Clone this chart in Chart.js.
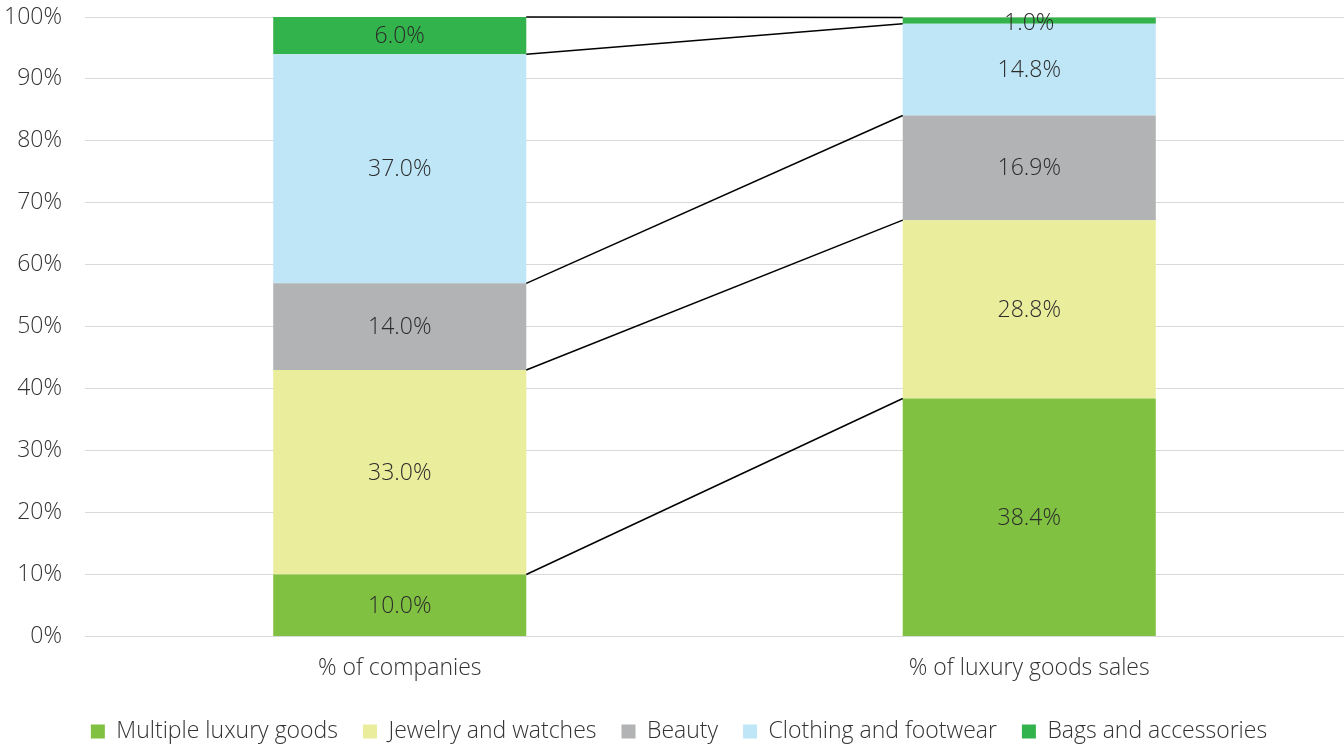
<!DOCTYPE html>
<html>
<head>
<meta charset="utf-8">
<script src="https://cdn.jsdelivr.net/npm/chart.js@4.4.0/dist/chart.umd.min.js"></script>
<style>
  html, body { margin: 0; padding: 0; background: #fff; }
  #wrap { width: 1344px; height: 745px; }
</style>
</head>
<body>
<div id="wrap"><canvas id="mixCanvas"></canvas></div>
<script>
// categories and series (share of total, %)
var categories = ['% of companies', '% of luxury goods sales'];
var seriesNames = ['Multiple luxury goods', 'Jewelry and watches', 'Beauty', 'Clothing and footwear', 'Bags and accessories'];
var multipleLuxury = [10.0, 38.4];
var jewelryWatches = [33.0, 28.8];
var beauty = [14.0, 16.9];
var clothingFootwear = [37.0, 14.8];
var bagsAccessories = [6.0, 1.0];
var yTicks = [0, 10, 20, 30, 40, 50, 60, 70, 80, 90, 100];

var seriesColors = ['#80c141', '#eaed9c', '#b1b3b4', '#bfe6f7', '#33b34b'];
var seriesValues = [multipleLuxury, jewelryWatches, beauty, clothingFootwear, bagsAccessories];

var FONT = "'Open Sans', 'Noto Sans', sans-serif";

// labels in the middle of each segment + lines joining segment tops across bars
var segmentExtras = {
    id: 'segmentExtras',
    afterLayout: function(chart) {
        // nudge legend a little to the right
        chart.legend.left += 7;
        chart.legend.right += 7;
    },
    afterDatasetsDraw: function(chart) {
        var ctx = chart.ctx;
        ctx.save();
        // connector lines
        ctx.strokeStyle = '#000';
        ctx.lineWidth = 1.5;
        chart.data.datasets.forEach(function(ds, i) {
            var meta = chart.getDatasetMeta(i);
            var a = meta.data[0], b = meta.data[1];
            ctx.beginPath();
            ctx.moveTo(a.x + a.width / 2, a.y);
            ctx.lineTo(b.x - b.width / 2, b.y);
            ctx.stroke();
        });
        // value labels
        ctx.fillStyle = '#2b2b2b';
        ctx.font = '300 23px ' + FONT;
        ctx.textAlign = 'center';
        ctx.textBaseline = 'middle';
        chart.data.datasets.forEach(function(ds, i) {
            var meta = chart.getDatasetMeta(i);
            meta.data.forEach(function(el, j) {
                var y = (el.y + el.base) / 2;
                if (el.base - el.y < 20) y = el.y + 5;
                ctx.fillText(ds.data[j].toFixed(1) + '%', el.x, y + 1);
            });
        });
        ctx.restore();
    }
};

var datasets = seriesNames.map(function(name, i) {
    return {
        label: name,
        data: seriesValues[i],
        backgroundColor: seriesColors[i],
        borderWidth: 0,
        categoryPercentage: 1.0,
        barPercentage: 0.402
    };
});

var chart = new Chart(document.getElementById('mixCanvas'), {
    type: 'bar',
    data: { labels: categories, datasets: datasets },
    options: {
        responsive: true,
        maintainAspectRatio: false,
        animation: false,
        layout: { padding: { top: 0, right: 0, bottom: -8, left: 0 } },
        scales: {
            x: {
                stacked: true,
                afterFit: function(scale) { scale.height += 3; },
                grid: { display: false },
                border: { display: false },
                ticks: { color: '#333', padding: 10, font: { family: FONT, size: 23, weight: 300 } }
            },
            y: {
                stacked: true,
                min: 0,
                max: 100,
                afterFit: function(scale) {
                    scale.width = 85;
                    scale.paddingTop = 17;
                    scale.paddingBottom = 0;
                },
                afterBuildTicks: function(scale) {
                    scale.ticks = yTicks.map(function(v) { return { value: v }; });
                },
                grid: { color: '#d9d9d9', lineWidth: 1, drawTicks: false },
                border: { display: false },
                ticks: {
                    color: '#333',
                    padding: 23,
                    font: { family: FONT, size: 23, weight: 300 },
                    callback: function(v) { return v + '%'; }
                }
            }
        },
        plugins: {
            tooltip: { enabled: false },
            legend: {
                position: 'bottom',
                labels: {
                    color: '#333',
                    boxWidth: 14,
                    boxHeight: 14,
                    padding: 25,
                    font: { family: FONT, size: 23, weight: 300 }
                }
            }
        }
    },
    plugins: [segmentExtras]
});
</script>
</body>
</html>
